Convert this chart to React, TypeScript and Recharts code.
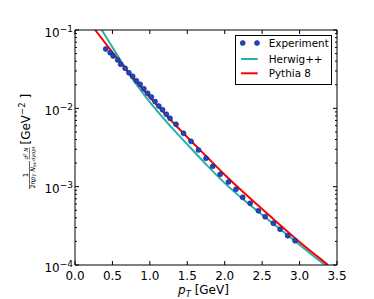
import React from 'react';
import { ComposedChart, Line, Scatter, XAxis, YAxis, Legend } from 'recharts';

// ---- data ----
const expX = [0.41, 0.47, 0.51, 0.57, 0.61, 0.67, 0.72, 0.77, 0.82, 0.87, 0.92, 0.97, 1.02, 1.07, 1.12, 1.17, 1.22, 1.27, 1.35, 1.45, 1.55, 1.65, 1.75, 1.84, 1.94, 2.05, 2.15, 2.24, 2.34, 2.45, 2.54, 2.65, 2.74, 2.84, 2.94];
const expY = [0.0572, 0.0513, 0.0466, 0.0414, 0.0365, 0.0324, 0.0285, 0.0256, 0.0225, 0.0203, 0.0178, 0.0156, 0.014, 0.0122, 0.0107, 0.0096, 0.0084, 0.00746, 0.00625, 0.0048, 0.00379, 0.00294, 0.0023, 0.00182, 0.00144, 0.00115, 0.000925, 0.000731, 0.000614, 0.000493, 0.000414, 0.000341, 0.000286, 0.000237, 0.000204];

const hwX = [0.357, 0.5, 0.75, 1.0, 1.25, 1.5, 1.75, 2.0, 2.25, 2.5, 2.75, 3.0, 3.25, 3.345];
const hwY = [0.1, 0.0603, 0.0251, 0.012, 0.0063, 0.00347, 0.00193, 0.00111, 0.000684, 0.000437, 0.000282, 0.000182, 0.000117, 0.0001];

const pyX = [0.27, 0.5, 0.75, 1.0, 1.25, 1.5, 1.75, 2.0, 2.25, 2.5, 2.75, 3.0, 3.25, 3.38];
const pyY = [0.1, 0.0519, 0.0263, 0.0138, 0.00759, 0.00427, 0.00246, 0.00142, 0.000847, 0.000518, 0.000318, 0.000197, 0.000126, 0.0001];

const seriesNames = ['Experiment', 'Herwig++', 'Pythia 8'];
const xTicks = [0, 0.5, 1, 1.5, 2, 2.5, 3, 3.5];
const yMajor = [1e-4, 1e-3, 1e-2, 1e-1];
const yExponents = ['−4', '−3', '−2', '−1'];
const yMinor = [2e-4, 3e-4, 4e-4, 5e-4, 6e-4, 7e-4, 8e-4, 9e-4, 2e-3, 3e-3, 4e-3, 5e-3, 6e-3, 7e-3, 8e-3, 9e-3, 2e-2, 3e-2, 4e-2, 5e-2, 6e-2, 7e-2, 8e-2, 9e-2];

const expData = expX.map((x, i) => ({ x, y: expY[i] }));
const hwData = hwX.map((x, i) => ({ x, y: hwY[i] }));
const pyData = pyX.map((x, i) => ({ x, y: pyY[i] }));

const FONT = 'DejaVu Sans';
const BLUE = '#1f45c8';
const TEAL = '#26b0ac';
const RED = '#ff0000';

const majorIndex = (v: number) => yMajor.findIndex((m) => Math.abs(m - v) / m < 1e-6);

const BottomTick = (p: any) => {
  const { x, y, payload } = p;
  return (
    <g>
      <line x1={x} x2={x} y1={y} y2={y - 4} stroke="#000" strokeWidth={1} />
      <text x={x} y={y + 15} textAnchor="middle" fontSize={12} fontFamily={FONT} fill="#000">
        {Number(payload.value).toFixed(1)}
      </text>
    </g>
  );
};

const TopTick = (p: any) => {
  const { x, y } = p;
  return <line x1={x} x2={x} y1={y} y2={y + 4} stroke="#000" strokeWidth={1} />;
};

const LeftTick = (p: any) => {
  const { x, y, payload } = p;
  const idx = majorIndex(payload.value);
  const major = idx >= 0;
  return (
    <g>
      <line x1={x} x2={x + (major ? 4 : 2)} y1={y} y2={y} stroke="#000" strokeWidth={1} />
      {major && (
        <text x={x - 2} y={y + 6.5} textAnchor="end" fontSize={12} fontFamily={FONT} fill="#000">
          10
          <tspan dy={-5} fontSize={9}>{yExponents[idx]}</tspan>
        </text>
      )}
    </g>
  );
};

const RightTick = (p: any) => {
  const { x, y, payload } = p;
  const major = majorIndex(payload.value) >= 0;
  return <line x1={x} x2={x - (major ? 4 : 2)} y1={y} y2={y} stroke="#000" strokeWidth={1} />;
};

const YLabel = () => (
  <g transform="translate(30,189) rotate(-90)" fontFamily={FONT} fill="#000">
    <text x={14} y={-1.6} fontSize={7} textAnchor="middle">1</text>
    <line x1={0} x2={28} y1={-0.5} y2={-0.5} stroke="#000" strokeWidth={0.6} />
    <text x={14} y={5} fontSize={6.4} textAnchor="middle">
      2π
      <tspan fontStyle="italic">p</tspan>
      <tspan fontSize={4.6} dy={1} fontStyle="italic">T</tspan>
      <tspan dy={-1} fontStyle="italic"> N</tspan>
      <tspan fontSize={4.6} dy={1} fontStyle="italic">ev</tspan>
    </text>
    <text x={35.5} y={-1.6} fontSize={5.6} textAnchor="middle" fontStyle="italic">
      d<tspan dy={-2} fontSize={4}>2</tspan>
      <tspan dy={2}> N</tspan>
    </text>
    <line x1={29.5} x2={41.5} y1={-0.5} y2={-0.5} stroke="#000" strokeWidth={0.5} />
    <text x={35.5} y={4.6} fontSize={4.9} textAnchor="middle" fontStyle="italic">
      dydp<tspan fontSize={3.6} dy={0.8}>T</tspan>
    </text>
    <text x={44.5} y={0} fontSize={12}>
      [GeV<tspan dy={-5} fontSize={8.5}>−2</tspan>
      <tspan dy={5}> ]</tspan>
    </text>
  </g>
);

const XLabel = () => (
  <text x={178} y={294} fontSize={12} fontFamily={FONT} fill="#000">
    <tspan fontStyle="italic">p</tspan>
    <tspan fontSize={8.5} dy={2.5} fontStyle="italic">T</tspan>
    <tspan dy={-2.5}>{'  [GeV]'}</tspan>
  </text>
);

const LegendBox = () => (
  <svg width={97} height={50} style={{ display: 'block' }}>
    <rect x={0.5} y={0.5} width={96} height={49} fill="#fff" stroke="#000" strokeWidth={1} />
    <circle cx={7.7} cy={8} r={2.5} fill={BLUE} stroke="#0a1a5a" strokeWidth={0.5} />
    <circle cx={22} cy={8} r={2.5} fill={BLUE} stroke="#0a1a5a" strokeWidth={0.5} />
    <text x={33.7} y={11.8} fontSize={10.4} fontFamily={FONT} fill="#000">{seriesNames[0]}</text>
    <line x1={6} x2={22.7} y1={24} y2={24} stroke={TEAL} strokeWidth={2} />
    <text x={33.7} y={27.8} fontSize={10.4} fontFamily={FONT} fill="#000">{seriesNames[1]}</text>
    <line x1={6} x2={22.7} y1={38.3} y2={38.3} stroke={RED} strokeWidth={2} />
    <text x={33.7} y={42.1} fontSize={10.4} fontFamily={FONT} fill="#000">{seriesNames[2]}</text>
  </svg>
);

const Dot = (p: any) => (
  <circle cx={p.cx} cy={p.cy} r={2.5} fill={BLUE} stroke="#0a1a5a" strokeWidth={0.5} />
);

export default function App() {
  return (
    <div style={{ position: 'absolute', left: 0, top: 0, width: 374, height: 299, background: '#fff' }}>
      <ComposedChart width={374} height={299} margin={{ top: 29, right: 36, bottom: 0, left: 0 }}>
        <XAxis
          xAxisId="b"
          type="number"
          dataKey="x"
          domain={[0, 3.5]}
          ticks={xTicks}
          interval={0}
          allowDataOverflow
          height={34}
          tickSize={0}
          tickMargin={0}
          tickLine={false}
          axisLine={{ stroke: '#000', strokeWidth: 1 }}
          tick={<BottomTick />}
          label={<XLabel />}
        />
        <XAxis
          xAxisId="t"
          orientation="top"
          type="number"
          dataKey="x"
          domain={[0, 3.5]}
          ticks={xTicks}
          interval={0}
          allowDataOverflow
          height={1}
          tickSize={0}
          tickMargin={0}
          tickLine={false}
          axisLine={{ stroke: '#000', strokeWidth: 1 }}
          tick={<TopTick />}
        />
        <YAxis
          yAxisId="l"
          type="number"
          dataKey="y"
          scale="log"
          domain={[1e-4, 1e-1]}
          ticks={[...yMajor, ...yMinor]}
          interval={0}
          allowDataOverflow
          width={75}
          tickSize={0}
          tickMargin={0}
          tickLine={false}
          axisLine={{ stroke: '#000', strokeWidth: 1 }}
          tick={<LeftTick />}
          label={<YLabel />}
        />
        <YAxis
          yAxisId="r"
          orientation="right"
          type="number"
          dataKey="y"
          scale="log"
          domain={[1e-4, 1e-1]}
          ticks={[...yMajor, ...yMinor]}
          interval={0}
          allowDataOverflow
          width={1}
          tickSize={0}
          tickMargin={0}
          tickLine={false}
          axisLine={{ stroke: '#000', strokeWidth: 1 }}
          tick={<RightTick />}
        />
        <Scatter
          name={seriesNames[0]}
          data={expData}
          dataKey="y"
          xAxisId="b"
          yAxisId="l"
          shape={<Dot />}
          isAnimationActive={false}
        />
        <Line
          name={seriesNames[1]}
          data={hwData}
          dataKey="y"
          xAxisId="b"
          yAxisId="l"
          type="monotone"
          stroke={TEAL}
          strokeWidth={2}
          dot={false}
          activeDot={false}
          isAnimationActive={false}
        />
        <Line
          name={seriesNames[2]}
          data={pyData}
          dataKey="y"
          xAxisId="b"
          yAxisId="l"
          type="monotone"
          stroke={RED}
          strokeWidth={2}
          dot={false}
          activeDot={false}
          isAnimationActive={false}
        />
        {/* invisible series that anchors the top and right frame axes */}
        <Line
          data={pyData}
          dataKey="y"
          xAxisId="t"
          yAxisId="r"
          stroke="none"
          dot={false}
          activeDot={false}
          legendType="none"
          isAnimationActive={false}
        />
        <Legend
          layout="vertical"
          align="center"
          verticalAlign="middle"
          content={<LegendBox />}
          wrapperStyle={{ left: 235, top: 35, width: 97, height: 50 }}
        />
      </ComposedChart>
    </div>
  );
}
